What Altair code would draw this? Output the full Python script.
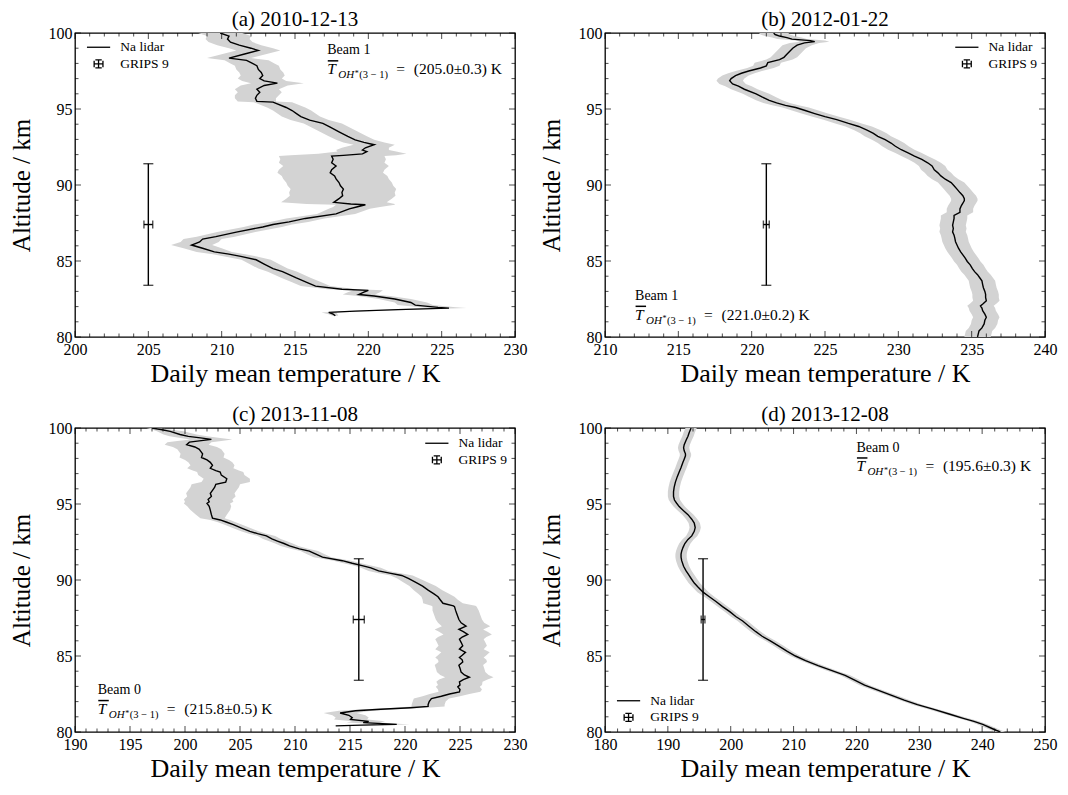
import altair as alt
import pandas as pd

FONT = "Liberation Serif"
W, H = 440, 304

# ---------------- data ----------------
# (a) 2010-12-13
A_ALT = [100.0, 99.8, 99.6, 99.4, 99.2, 99.0, 98.85, 98.6, 98.35, 98.2, 98.0, 97.85, 97.6, 97.4,
         97.2, 97.0, 96.85, 96.7, 96.55, 96.3, 96.1, 95.9, 95.7, 95.5, 95.45, 95.1, 94.9, 94.7,
         94.5, 94.27, 94.05, 93.8, 93.5, 93.2, 92.97, 92.8, 92.65, 92.45, 92.3, 92.2, 92.05,
         91.95, 91.9, 91.7, 91.46, 91.25, 91.0, 90.8, 90.6, 90.4, 90.16, 89.95, 89.73, 89.5,
         89.3, 89.1, 88.86, 88.75, 88.7, 88.55, 88.43, 88.1, 87.8, 87.57, 87.4, 87.24, 86.9,
         86.6, 86.44, 86.25, 86.05, 85.84, 85.6, 85.45, 85.3, 85.08, 84.8, 84.5, 84.3, 84.1,
         83.9, 83.6, 83.35, 83.14, 83.07, 82.95, 82.8, 82.7, 82.5, 82.27, 82.1, 81.95, 81.9,
         81.8, 81.7, 81.62, 81.5, 81.4]
A_T = [209.9, 210.5, 210.4, 210.6, 211.2, 212.0, 212.5, 211.5, 210.5, 211.7, 212.1, 212.4, 212.5, 212.7,
       212.8, 212.6, 212.9, 213.8, 212.9, 212.4, 212.6, 212.4, 212.3, 212.4, 213.5, 214.4, 214.8, 215.1,
       215.4, 216.0, 216.9, 217.4, 218.0, 218.6, 219.1, 219.7, 220.4, 219.8, 219.6, 219.9, 219.6,
       218.3, 217.5, 217.6, 217.5, 217.8, 217.5, 217.4, 217.7, 217.8, 218.0, 218.1, 218.3, 218.2,
       218.25, 218.0, 217.65, 218.8, 219.8, 219.2, 218.7, 217.8, 215.7, 214.6, 213.5, 212.8, 211.0,
       209.6, 208.7, 208.5, 207.95, 208.7, 209.5, 210.5, 211.3, 212.35, 212.9, 213.5, 214.15, 214.6,
       215.05, 215.8, 216.4, 218.2, 220.0, 219.7, 219.35, 220.4, 221.8, 222.9, 223.2, 224.75, 225.5,
       222.0, 219.1, 217.3, 217.6, 217.75]
A_ERR = [1.5, 1.5, 1.5, 1.5, 1.5, 1.5, 1.5, 1.5, 1.5, 1.5, 1.5, 1.5, 1.5, 1.5,
         1.5, 1.5, 1.5, 1.8, 1.6, 1.5, 1.5, 1.5, 1.4, 1.3, 1.3, 1.3, 1.3, 1.3,
         1.3, 1.3, 1.3, 1.3, 1.3, 1.3, 1.3, 1.4, 1.4, 1.6, 1.8, 2.0, 3.0,
         3.6, 3.6, 3.6, 3.6, 3.6, 3.6, 3.6, 3.6, 3.6, 3.6, 3.6, 3.6, 3.6,
         3.6, 3.6, 3.6, 3.0, 2.0, 1.6, 1.4, 1.3, 1.3, 1.3, 1.3, 1.3, 1.3,
         1.3, 1.3, 1.3, 1.4, 1.3, 1.2, 1.1, 1.1, 1.0, 1.0, 1.0, 1.0, 1.0,
         1.0, 1.0, 1.0, 1.0, 1.0, 1.1, 1.1, 1.1, 1.1, 1.1, 1.2, 1.2, 1.2,
         1.0, 0.8, 0.5, 0.3, 0.2]

# (b) 2012-01-22
B_ALT = [100.0, 99.9, 99.8, 99.7, 99.6, 99.5, 99.43, 99.35, 99.2, 99.0, 98.8, 98.6, 98.4, 98.25,
         98.05, 97.84, 97.7, 97.5, 97.35, 97.2, 97.0, 96.86, 96.65, 96.5, 96.3, 96.0, 95.8, 95.57,
         95.4, 95.24, 95.1, 94.9, 94.7, 94.5, 94.3, 94.05, 93.85, 93.6, 93.4, 93.2, 92.98, 92.76,
         92.55, 92.32, 92.1, 91.9, 91.68, 91.46, 91.25, 91.0, 90.8, 90.6, 90.38, 90.16, 89.95,
         89.73, 89.5, 89.3, 89.1, 88.97, 88.8, 88.65, 88.43, 88.2, 88.0, 87.8, 87.57, 87.35,
         87.14, 86.92, 86.7, 86.5, 86.27, 86.05, 85.84, 85.6, 85.4, 85.2, 84.97, 84.75, 84.5,
         84.3, 84.1, 83.9, 83.7, 83.45, 83.24, 83.0, 82.8, 82.6, 82.38, 82.2, 82.05, 81.9, 81.73,
         81.5, 81.3, 81.1, 80.86, 80.6, 80.4, 80.2, 80.0]
B_T = [221.5, 221.6, 221.9, 222.4, 222.75, 224.0, 224.3, 223.6, 223.1, 222.8, 222.6, 222.4, 222.2, 221.9,
       221.1, 221.0, 220.6, 219.8, 219.3, 218.9, 218.6, 218.5, 218.7, 219.1, 219.5, 220.3, 220.7, 221.2,
       221.7, 222.3, 223.0, 223.65, 224.3, 225.0, 225.8, 226.6, 227.3, 227.9, 228.3, 228.6, 229.1, 229.5,
       229.8, 230.2, 230.7, 231.1, 231.6, 232.0, 232.3, 232.45, 232.7, 232.9, 233.2, 233.6, 233.8,
       234.0, 234.2, 234.4, 234.5, 234.5, 234.4, 234.3, 234.2, 234.2, 233.8, 233.8, 233.75, 233.7,
       233.75, 233.7, 233.8, 233.85, 233.9, 234.0, 234.1, 234.25, 234.4, 234.55, 234.7, 234.9, 235.05,
       235.2, 235.4, 235.55, 235.7, 235.75, 235.8, 235.9, 235.95, 235.95, 236.0, 235.8, 235.6, 235.7, 235.75,
       235.9, 236.0, 235.9, 235.85, 235.7, 235.5, 235.45, 235.4]
B_ERR = [1.0, 1.0, 1.0, 1.0, 1.0, 1.0, 1.0, 1.0, 1.0, 0.9, 0.9, 0.9, 0.9, 0.9,
         0.9, 0.9, 0.9, 0.9, 0.9, 0.9, 0.9, 0.9, 0.9, 0.9, 0.9, 0.9, 0.9, 0.9,
         0.9, 0.9, 0.9, 0.9, 0.9, 0.9, 0.9, 0.9, 0.9, 0.9, 0.9, 0.9, 0.9, 0.9,
         0.9, 0.9, 0.9, 0.9, 0.9, 0.9, 0.9, 0.9, 0.9, 0.9, 0.9, 0.9, 0.9,
         0.9, 0.9, 0.9, 0.9, 0.9, 0.9, 0.9, 0.9, 0.9, 0.9, 0.9, 0.9, 0.9,
         0.9, 0.9, 0.9, 0.9, 0.9, 0.9, 0.9, 0.9, 0.9, 0.9, 0.9, 0.9, 0.9,
         0.9, 0.9, 0.9, 0.9, 0.9, 0.9, 0.9, 0.9, 0.9, 0.9, 0.9, 0.9, 0.9, 0.9,
         0.9, 0.9, 0.9, 0.9, 0.9, 0.9, 0.9, 0.9]

# (c) 2013-11-08
C_ALT = [100.0, 99.9, 99.78, 99.57, 99.45, 99.35, 99.25, 99.15, 99.07, 98.9, 98.75, 98.6, 98.5, 98.3,
         98.06, 97.9, 97.74, 97.55, 97.35, 97.2, 97.1, 96.9, 96.66, 96.44, 96.3, 96.1, 95.9, 95.7,
         95.5, 95.3, 95.15, 95.04, 94.85, 94.6, 94.3, 94.07, 93.95, 93.8, 93.64, 93.4, 93.2, 93.05,
         92.9, 92.7, 92.56, 92.4, 92.24, 92.05, 91.9, 91.7, 91.5, 91.27, 91.1, 90.95, 90.8, 90.6,
         90.45, 90.3, 90.1, 89.87, 89.6, 89.33, 89.1, 88.9, 88.7, 88.47, 88.3, 88.25, 88.0, 87.8,
         87.6, 87.4, 87.18, 86.96, 86.75, 86.6, 86.42, 86.25, 86.1, 85.9, 85.67, 85.45, 85.24,
         85.05, 84.9, 84.75, 84.6, 84.4, 84.2, 83.94, 83.75, 83.6, 83.45, 83.3, 83.1, 82.97, 82.8,
         82.64, 82.5, 82.35, 82.2, 82.0, 81.8, 81.68, 81.6, 81.5, 81.4, 81.25, 81.1, 80.95, 80.82,
         80.7, 80.62, 80.5, 80.45, 80.4]
C_T = [197.0, 197.8, 198.65, 199.55, 200.3, 201.4, 202.4, 201.3, 200.4, 200.15, 200.9, 201.3, 201.4, 201.6,
       201.5, 202.0, 202.3, 202.5, 202.3, 202.8, 203.2, 203.3, 203.8, 203.7, 202.8, 202.7, 202.5, 202.3,
       202.4, 202.1, 202.2, 202.0, 202.2, 202.3, 202.4, 202.5, 203.2, 203.8, 204.4, 205.2, 205.9, 206.6,
       207.4, 207.9, 208.4, 209.0, 209.5, 210.4, 211.3, 211.9, 212.5, 214.3, 215.2, 216.1, 216.9, 217.6,
       218.6, 219.7, 220.3, 220.9, 221.6, 222.1, 222.6, 223.0, 223.2, 223.45, 224.4, 224.5, 224.6, 224.7,
       224.8, 224.9, 225.1, 225.55, 224.9, 225.3, 225.7, 225.2, 224.95, 225.1, 225.25, 224.95, 225.5,
       225.2, 224.95, 225.2, 225.25, 224.9, 225.0, 225.1, 225.4, 225.85, 225.3, 224.95, 225.0, 224.8, 225.0,
       224.95, 224.05, 223.3, 222.4, 222.2, 222.1, 222.1, 220.5, 217.8, 215.5, 214.1, 214.9, 215.2, 215.05,
       216.7, 216.2, 219.25, 216.0, 213.7]
C_ERR = [0.5, 0.8, 1.2, 1.5, 1.7, 1.8, 1.9, 2.0, 2.0, 2.0, 2.0, 2.0, 2.0, 2.0,
         2.0, 2.0, 2.0, 2.0, 2.1, 2.1, 2.1, 2.1, 2.1, 2.2, 2.2, 2.2, 2.2, 2.2,
         2.2, 2.2, 2.2, 2.1, 2.0, 1.8, 1.4, 1.1, 0.9, 0.8, 0.8, 0.8, 0.8, 0.8,
         0.8, 0.8, 0.8, 0.8, 0.8, 0.8, 0.8, 0.8, 0.8, 0.8, 0.8, 0.8, 0.9, 0.9,
         1.0, 1.0, 1.0, 1.1, 1.2, 1.3, 1.4, 1.5, 1.6, 1.8, 2.0, 2.0, 2.1, 2.1,
         2.1, 2.1, 2.1, 2.2, 2.2, 2.2, 2.2, 2.2, 2.2, 2.2, 2.2, 2.2, 2.2,
         2.2, 2.2, 2.2, 2.2, 2.2, 2.2, 2.2, 2.2, 2.2, 2.2, 2.1, 2.0, 2.0, 2.0,
         1.9, 1.8, 1.7, 1.6, 1.5, 1.5, 1.5, 1.5, 1.5, 1.5, 1.5, 1.5, 1.5, 1.5,
         1.5, 1.5, 1.2, 1.0, 0.5]

# (d) 2013-12-08
D_ALT = [100.0, 99.7, 99.46, 99.2, 98.9, 98.7, 98.5, 98.3, 98.17, 97.95, 97.74, 97.4, 97.1, 96.8,
         96.44, 96.1, 95.8, 95.5, 95.26, 95.05, 94.83, 94.55, 94.3, 94.0, 93.75, 93.45, 93.2, 92.9,
         92.67, 92.4, 92.13, 91.9, 91.7, 91.5, 91.27, 90.9, 90.6, 90.35, 90.1, 89.8, 89.55, 89.2,
         88.9, 88.6, 88.25, 87.9, 87.6, 87.3, 86.96, 86.6, 86.3, 86.0, 85.67, 85.3, 85.0, 84.7,
         84.37, 84.05, 83.73, 83.4, 83.08, 82.75, 82.43, 82.1, 81.8, 81.5, 81.15, 80.9, 80.7, 80.5,
         80.28, 80.1, 80.0]
D_T = [193.7, 193.4, 193.2, 192.9, 192.6, 192.5, 192.6, 192.8, 192.8, 192.6, 192.4, 192.1, 191.8, 191.5,
       191.2, 191.0, 190.9, 190.9, 191.05, 191.4, 191.8, 192.5, 193.2, 193.8, 194.2, 194.35, 194.2, 193.8,
       193.2, 192.7, 192.4, 192.2, 192.1, 192.1, 192.2, 192.5, 192.9, 193.3, 193.7, 194.2, 194.75, 195.6,
       196.6, 197.6, 198.7, 199.9, 200.8, 201.9, 202.9, 204.0, 205.0, 206.3, 207.6, 209.0, 210.3, 211.9,
       213.9, 216.0, 218.2, 219.8, 221.3, 223.4, 225.5, 227.6, 229.7, 232.2, 235.0, 237.0, 238.7, 240.1,
       241.3, 242.3, 242.9]
D_ERR = [0.9, 0.9, 0.9, 0.9, 0.9, 0.9, 0.9, 0.9, 0.9, 0.9, 0.9, 0.9, 0.9, 0.9,
         0.9, 0.9, 0.9, 0.9, 0.9, 0.9, 0.9, 0.9, 0.9, 0.9, 0.9, 0.9, 0.9, 0.9,
         0.9, 0.9, 0.9, 0.9, 0.9, 0.9, 0.9, 0.9, 0.9, 0.9, 0.9, 0.9, 0.9, 0.9,
         0.8, 0.8, 0.8, 0.8, 0.8, 0.8, 0.8, 0.8, 0.8, 0.8, 0.8, 0.8, 0.8, 0.8,
         0.8, 0.8, 0.8, 0.8, 0.8, 0.8, 0.8, 0.8, 0.8, 0.8, 0.8, 0.8, 0.8, 0.8,
         0.8, 0.8, 0.8]

# GRIPS 9 values (one per panel)
GRIPS_T = [205.0, 221.0, 215.8, 195.6]
GRIPS_T_ERR = [0.3, 0.2, 0.5, 0.3]
GRIPS_ALT = 87.4
GRIPS_ALT_ERR = 4.0

TITLES = ["(a) 2010-12-13", "(b) 2012-01-22", "(c) 2013-11-08", "(d) 2013-12-08"]
BEAMS = ["Beam 1", "Beam 1", "Beam 0", "Beam 0"]
X_DOMAINS = [[200, 230], [210, 240], [190, 230], [180, 250]]
X_MAJOR = [[200, 205, 210, 215, 220, 225, 230],
           [210, 215, 220, 225, 230, 235, 240],
           [190, 195, 200, 205, 210, 215, 220, 225, 230],
           [180, 190, 200, 210, 220, 230, 240, 250]]
X_MINOR_STEP = [1, 1, 1, 2]
Y_DOMAIN = [80, 100]
Y_MAJOR = [80, 85, 90, 95, 100]
Y_MINOR = [v for v in range(81, 100) if v % 5 != 0]
SERIES = ["Na lidar", "GRIPS 9"]

# annotation anchors (data coords): x, baseline of "Beam", baseline of T-line
ANNOT = [(217.2, 98.59, 97.28), (212.05, 82.44, 81.13), (192.07, 82.47, 81.18), (220.0, 98.45, 97.14)]
# legend positions in px relative to plot area
LEGEND_XY = [(16.8, 7.5), (W - 84.9, 7.5), (W - 84.9, 8.5), (16.8, H - 38.0)]

LINE_PATH = "M-2.9,0H2.9"
GRIPS_PATH = "M-1.1,0H1.1M0,-1V1M-1.1,-0.8V0.8M1.1,-0.8V0.8M-0.8,-1H0.8M-0.8,1H0.8"

PROFILES = [(A_ALT, A_T, A_ERR), (B_ALT, B_T, B_ERR), (C_ALT, C_T, C_ERR), (D_ALT, D_T, D_ERR)]


def panel(i):
    a_, t_, e_ = PROFILES[i]
    xs = alt.Scale(domain=X_DOMAINS[i], nice=False, zero=False)
    ys = alt.Scale(domain=Y_DOMAIN, nice=False, zero=False)
    xaxis = alt.Axis(values=X_MAJOR[i], format="d", title="Daily mean temperature / K",
                     labelFont=FONT, labelFontSize=16, titleFont=FONT, titleFontSize=26,
                     titleFontWeight="normal", labelPadding=4, titlePadding=3, labelFlush=False,
                     labelOverlap=False, ticks=False, domain=False, grid=False,
                     labelColor="black", titleColor="black")
    yaxis = alt.Axis(values=Y_MAJOR, format="d", title="Altitude / km",
                     labelFont=FONT, labelFontSize=16, titleFont=FONT, titleFontSize=25,
                     titleFontWeight="normal", labelPadding=3, titlePadding=13.5, labelFlush=False,
                     labelOverlap=False, ticks=False, domain=False, grid=False,
                     labelColor="black", titleColor="black")

    def X(field):
        return alt.X(field, scale=xs, axis=xaxis)

    def Y(field):
        return alt.Y(field, scale=ys, axis=yaxis)

    df = pd.DataFrame({"alt": a_, "T": t_, "err": e_})
    df["lo"] = df["T"] - df["err"]
    df["hi"] = df["T"] + df["err"]

    band = alt.Chart(df).mark_area(orient="horizontal", color="#d3d3d3", clip=True).encode(
        y=Y("alt:Q"), x=X("lo:Q"), x2="hi:Q")
    line = alt.Chart(df).mark_line(color="black", strokeWidth=1.4, clip=True).encode(
        x=X("T:Q"), y=Y("alt:Q"), order="alt:Q")

    gt, ge = GRIPS_T[i], GRIPS_T_ERR[i]
    gdf = pd.DataFrame({"T": [gt], "tlo": [gt - ge], "thi": [gt + ge], "alt": [GRIPS_ALT],
                        "alo": [GRIPS_ALT - GRIPS_ALT_ERR], "ahi": [GRIPS_ALT + GRIPS_ALT_ERR]})
    vbar = alt.Chart(gdf).mark_rule(color="black", strokeWidth=1.4).encode(
        x=X("T:Q"), y=Y("alo:Q"), y2="ahi:Q")
    hbar = alt.Chart(gdf).mark_rule(color="black", strokeWidth=1.4).encode(
        x=X("tlo:Q"), x2="thi:Q", y=Y("alt:Q"))
    vcap_df = pd.DataFrame({"T": [gt, gt], "alt": [GRIPS_ALT - GRIPS_ALT_ERR, GRIPS_ALT + GRIPS_ALT_ERR]})
    vcaps = alt.Chart(vcap_df).mark_tick(orient="horizontal", size=10, thickness=1.4, color="black").encode(
        x=X("T:Q"), y=Y("alt:Q"))
    hcap_df = pd.DataFrame({"T": [gt - ge, gt + ge], "alt": [GRIPS_ALT, GRIPS_ALT]})
    hcaps = alt.Chart(hcap_df).mark_tick(orient="vertical", size=8, thickness=1.4, color="black").encode(
        x=X("T:Q"), y=Y("alt:Q"))

    lx, ly = LEGEND_XY[i]
    ldf = pd.DataFrame({"series": SERIES, "T": [gt, gt], "alt": [GRIPS_ALT, GRIPS_ALT]})
    legend_carrier = alt.Chart(ldf).mark_point(opacity=0, color="black").encode(
        x=X("T:Q"), y=Y("alt:Q"),
        shape=alt.Shape("series:N", scale=alt.Scale(domain=SERIES, range=[LINE_PATH, GRIPS_PATH]),
                        legend=alt.Legend(title=None, orient="none", legendX=lx, legendY=ly,
                                          symbolSize=64, symbolStrokeWidth=1.3, symbolStrokeColor="black",
                                          symbolFillColor="transparent", symbolOpacity=1,
                                          labelFont=FONT, labelFontSize=13.5, labelColor="black",
                                          labelOffset=15, rowPadding=1.7, padding=0)))

    def text_layer(x, y, txt, size, dx=0, dy=0, style="normal"):
        tdf = pd.DataFrame({"T": [x], "alt": [y]})
        return alt.Chart(tdf).mark_text(text=txt, font=FONT, fontSize=size, fontStyle=style, align="left",
                                        baseline="alphabetic", dx=dx, dy=dy, color="black").encode(
            x=X("T:Q"), y=Y("alt:Q"))

    ax, ayb, ayt = ANNOT[i]
    val = f"({GRIPS_T[i]:.1f}\u00b1{GRIPS_T_ERR[i]:.1f}) K"
    annots = [
        text_layer(ax, ayb, BEAMS[i], 14),
        text_layer(ax, ayt, "T", 15.5, style="italic"),
        text_layer(ax, ayt, "OH", 11, dx=11, dy=4, style="italic"),
        text_layer(ax, ayt, "*", 8, dx=27.5, dy=1.5),
        text_layer(ax, ayt, "(3 \u2212 1)", 10.5, dx=32, dy=4),
        text_layer(ax, ayt, "=", 15.5, dx=69),
        text_layer(ax, ayt, val, 15.5, dx=86.5),
    ]
    odf = pd.DataFrame({"T": [ax], "alt": [ayt]})
    overline = alt.Chart(odf).mark_rule(color="black", strokeWidth=1.5, xOffset=0.5, x2Offset=11,
                                        yOffset=-13.5).encode(x=X("T:Q"), x2="T:Q", y=Y("alt:Q"))

    def tick_layer(vals, channel, length, pos):
        tdf = pd.DataFrame({"T": vals, "alt": vals})
        mk = alt.Chart(tdf).mark_tick(size=length, thickness=1, color="black")
        if channel == "x":
            return mk.encode(x=X("T:Q"), y=alt.value(pos))
        return mk.encode(y=Y("alt:Q"), x=alt.value(pos))

    lo, hi = X_DOMAINS[i]
    step = X_MINOR_STEP[i]
    majstep = X_MAJOR[i][1] - X_MAJOR[i][0]
    x_minor = [v for v in range(lo, hi + 1, step) if (v - lo) % majstep != 0]
    MAJ, MIN = 6, 3.5
    ticks = [
        tick_layer(X_MAJOR[i], "x", MAJ, H - MAJ / 2),
        tick_layer(X_MAJOR[i], "x", MAJ, MAJ / 2),
        tick_layer(x_minor, "x", MIN, H - MIN / 2),
        tick_layer(x_minor, "x", MIN, MIN / 2),
        tick_layer(Y_MAJOR, "y", MAJ, MAJ / 2),
        tick_layer(Y_MAJOR, "y", MAJ, W - MAJ / 2),
        tick_layer(Y_MINOR, "y", MIN, MIN / 2),
        tick_layer(Y_MINOR, "y", MIN, W - MIN / 2),
    ]

    return alt.layer(band, line, vbar, hbar, vcaps, hcaps, legend_carrier, overline, *annots, *ticks).properties(
        width=W, height=H,
        title=alt.Title(TITLES[i], font=FONT, fontSize=21, fontWeight="normal", color="black",
                        anchor="middle", offset=-5, frame="group"))


chart = alt.concat(panel(0), panel(1), panel(2), panel(3), columns=2,
                   spacing={"row": 16, "column": 10}).resolve_scale(
    x="independent", y="independent", shape="independent").resolve_legend(
    shape="independent").configure(font=FONT).configure_view(
    stroke="black", strokeWidth=1.3).configure_axis(
    labelFont=FONT, titleFont=FONT).configure_legend(labelFont=FONT).properties(
    padding={"left": 0, "top": 0, "right": 0, "bottom": 0}, background="white")

chart.save("out.html", embed_options={"renderer": "svg", "actions": False})
